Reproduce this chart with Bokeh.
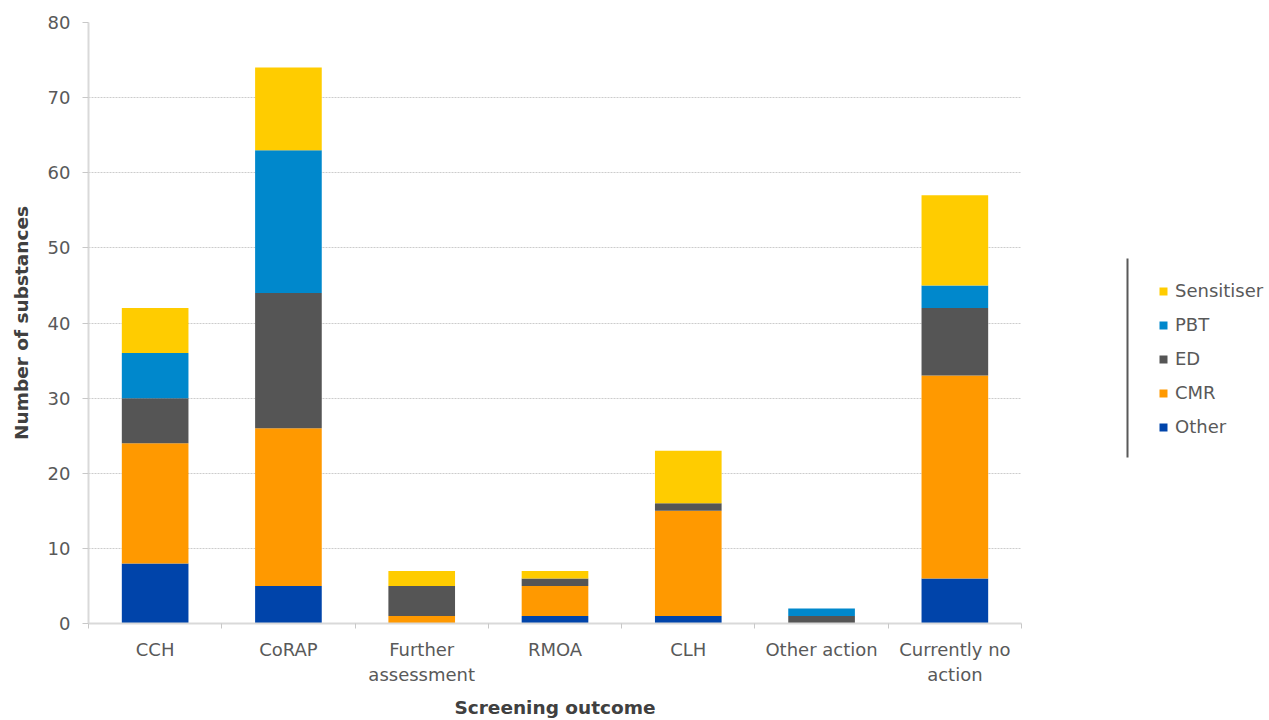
from bokeh.plotting import figure
from bokeh.layouts import row
from bokeh.models import ColumnDataSource, FixedTicker, Legend, LegendItem, Range1d
from bokeh.embed import file_html
from bokeh.resources import INLINE

# Screening outcomes and number of substances per concern group
outcomes = ["CCH", "CoRAP", "Further\nassessment", "RMOA", "CLH",
            "Other action", "Currently no\naction"]
other = [8, 5, 0, 1, 1, 0, 6]
cmr = [16, 21, 1, 4, 14, 0, 27]
ed = [6, 18, 4, 1, 1, 1, 9]
pbt = [6, 19, 0, 0, 0, 1, 3]
sensitiser = [6, 11, 2, 1, 7, 0, 12]

groups = ["Other", "CMR", "ED", "PBT", "Sensitiser"]
colors = ["#0044aa", "#ff9900", "#555555", "#0088cc", "#ffcc00"]
y_ticks = [0, 10, 20, 30, 40, 50, 60, 70, 80]

FONT = "DejaVu Sans"
LABEL_GREY = "#595959"
TITLE_GREY = "#404040"

BORDER_TOP = 22
BORDER_BOTTOM = 97
HEIGHT = 720

centers = [i + 0.5 for i in range(len(outcomes))]
source = ColumnDataSource(data=dict(
    x=centers, Other=other, CMR=cmr, ED=ed, PBT=pbt, Sensitiser=sensitiser))

p = figure(width=1050, height=HEIGHT, output_backend="svg", toolbar_location=None,
           x_range=Range1d(0, len(outcomes)), y_range=Range1d(y_ticks[0], y_ticks[-1]),
           min_border_left=88, min_border_right=29, min_border_top=BORDER_TOP,
           min_border_bottom=BORDER_BOTTOM)
p.outline_line_color = None

p.vbar_stack(groups, x="x", width=0.5, color=colors, line_color=None, source=source)

# x axis: labels under each bar, small ticks between categories
xa = p.xaxis[0]
xa.ticker = FixedTicker(ticks=centers, minor_ticks=list(range(len(outcomes) + 1)))
xa.major_label_overrides = {c: lab for c, lab in zip(centers, outcomes)}
xa.major_tick_line_color = None
xa.major_tick_out = 0
xa.major_tick_in = 0
xa.minor_tick_line_color = "#c8c8c8"
xa.minor_tick_out = 5
xa.minor_tick_in = 0
xa.axis_line_color = "#d9d9d9"
xa.axis_line_width = 2
xa.major_label_standoff = 10
xa.major_label_text_font = FONT
xa.major_label_text_font_size = "18px"
xa.major_label_text_color = LABEL_GREY
xa.axis_label = "Screening outcome"
xa.axis_label_text_font = FONT
xa.axis_label_text_font_size = "18.5px"
xa.axis_label_text_font_style = "bold"
xa.axis_label_text_color = TITLE_GREY
xa.axis_label_standoff = 9

ya = p.yaxis[0]
ya.ticker = FixedTicker(ticks=y_ticks, minor_ticks=[])
ya.major_tick_line_color = "#c8c8c8"
ya.major_tick_out = 6
ya.major_tick_in = 0
ya.axis_line_color = "#d9d9d9"
ya.axis_line_width = 2
ya.major_label_standoff = 12
ya.major_label_text_font = FONT
ya.major_label_text_font_size = "18px"
ya.major_label_text_color = LABEL_GREY
ya.axis_label = "Number of substances"
ya.axis_label_text_font = FONT
ya.axis_label_text_font_size = "18.5px"
ya.axis_label_text_font_style = "bold"
ya.axis_label_text_color = TITLE_GREY
ya.axis_label_standoff = 13

p.xgrid.grid_line_color = None
p.ygrid.grid_line_color = "#cccccc"
p.ygrid.grid_line_dash = "2 1"
p.ygrid.grid_line_width = 1

# Legend panel on the right, with a vertical rule on its left side.
# Its y range is in pixels measured up from the bottom of the frame.
frame_h = HEIGHT - BORDER_TOP - BORDER_BOTTOM
leg = figure(width=219, height=HEIGHT, output_backend="svg", toolbar_location=None,
             x_range=Range1d(0, 219), y_range=Range1d(0, frame_h),
             x_axis_type=None, y_axis_type=None,
             min_border_left=0, min_border_right=0,
             min_border_top=BORDER_TOP, min_border_bottom=BORDER_BOTTOM)
leg.outline_line_color = None
leg.xgrid.grid_line_color = None
leg.ygrid.grid_line_color = None
leg.segment(x0=[77], y0=[166], x1=[77], y1=[365], line_color="#595959", line_width=2)

# hidden copies of the stacked bars supply the legend swatches
swatch_renderers = leg.vbar_stack(groups, x="x", width=0.5, color=colors,
                                  line_color=None, source=source)
for r in swatch_renderers:
    r.visible = False
by_group = dict(zip(groups, swatch_renderers))
items = [LegendItem(label=g, renderers=[by_group[g]]) for g in reversed(groups)]
legend = Legend(items=items, location=(108, 186), glyph_width=10, glyph_height=10,
                label_height=20, spacing=13, padding=0, margin=0,
                label_standoff=7, border_line_color=None, background_fill_alpha=0,
                inactive_fill_alpha=0,
                label_text_font=FONT, label_text_font_size="18px",
                label_text_color=LABEL_GREY)
leg.add_layout(legend)

layout = row(p, leg, spacing=0)
open("out.html", "w").write(file_html(layout, INLINE))
